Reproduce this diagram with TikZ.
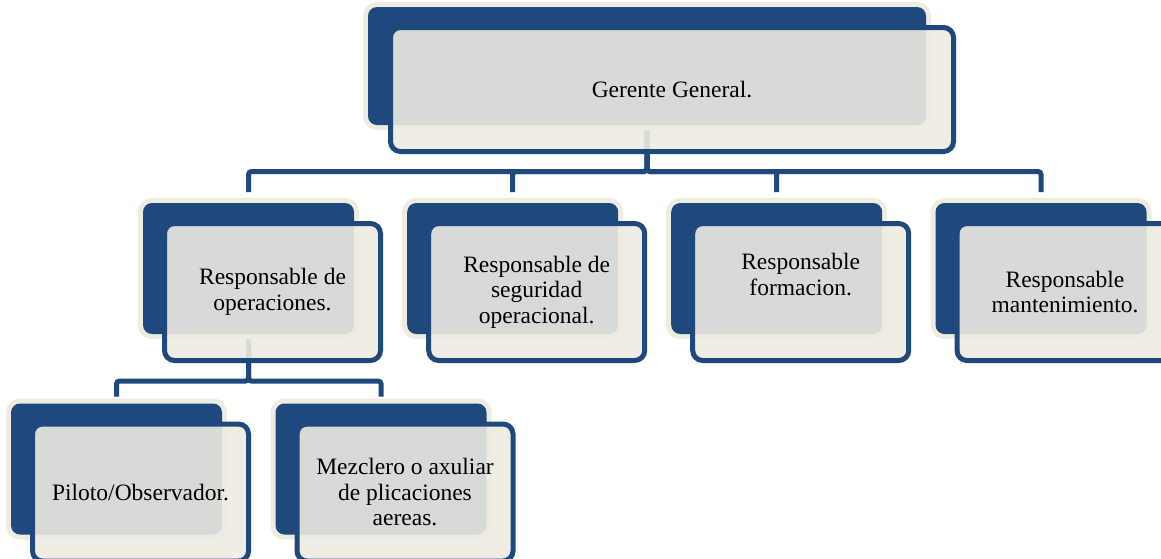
\documentclass[tikz,border=0pt]{standalone}
\usepackage{fontspec}
\setmainfont{Liberation Serif}
\usetikzlibrary{calc}
\definecolor{obl}{HTML}{1F497D}
\definecolor{ocr}{HTML}{EEECE1}
\pgfdeclarelayer{bg}
\pgfsetlayers{bg,main}
\tikzset{
  backbox/.style={rectangle, rounded corners=9pt, fill=obl,
    preaction={draw=ocr, line width=10pt},
    inner sep=0pt, outer sep=0pt, minimum width=211pt, minimum height=131pt},
  frontbox/.style={rectangle, rounded corners=10pt, draw=obl, line width=5pt,
    fill=ocr, fill opacity=0.89, text opacity=1, text=black,
    inner sep=0pt, outer sep=0pt, minimum width=216pt, minimum height=137pt,
    align=center, font=\fontsize{23.5}{25.5}\selectfont},
  conn/.style={draw=obl, line width=5pt, rounded corners=3pt},
}
\begin{document}
\begin{tikzpicture}[x=1pt, y=-1pt]
\useasboundingbox (0,0) rectangle (1161,558);
% top
\node[backbox, minimum width=558pt, minimum height=118pt] (g-b) at (647,66) {};
\node[frontbox, minimum width=563pt, minimum height=124pt] (g-f) at (672,89.5) {Gerente General.};
% level 2
\node[backbox] (c1-b) at (248.5,268.5) {};
\node[frontbox] (c1-f) at (272.5,292) {Responsable de\\operaciones.};
\node[backbox] (c2-b) at (512.7,268.5) {};
\node[frontbox] (c2-f) at (536.7,292) {Responsable de\\seguridad\\operacional.};
\node[backbox] (c3-b) at (776.7,268.5) {};
\node[frontbox] (c3-f) at (800.7,292) {Responsable\\formacion.\\[10pt]\mbox{}};
\node[backbox] (c4-b) at (1041,268.5) {};
\node[frontbox] (c4-f) at (1065,292) {Responsable\\mantenimiento.};
% level 3
\node[backbox] (p1-b) at (116.5,469) {};
\node[frontbox] (p1-f) at (140.5,492.5) {Piloto/Observador.};
\node[backbox] (p2-b) at (381,469) {};
\node[frontbox] (p2-f) at (405,492.5) {Mezclero o axuliar\\de plicaciones\\aereas.};
% connectors
\coordinate (bar1) at (647,171.5);
\coordinate (bar2) at (248.5,381);
\begin{pgfonlayer}{bg}
\draw[conn] (g-b.south) -- (bar1) -| ([yshift=11pt]c1-b.north);
\draw[conn] (g-b.south) -- (bar1) -| ([yshift=11pt]c2-b.north);
\draw[conn] (g-b.south) -- (bar1) -| ([yshift=11pt]c3-b.north);
\draw[conn] (g-b.south) -- (bar1) -| ([yshift=11pt]c4-b.north);
\draw[conn] (c1-b.south) -- (bar2) -| ([yshift=7pt]p1-b.north);
\draw[conn] (c1-b.south) -- (bar2) -| ([yshift=7pt]p2-b.north);
\end{pgfonlayer}
\end{tikzpicture}
\end{document}
